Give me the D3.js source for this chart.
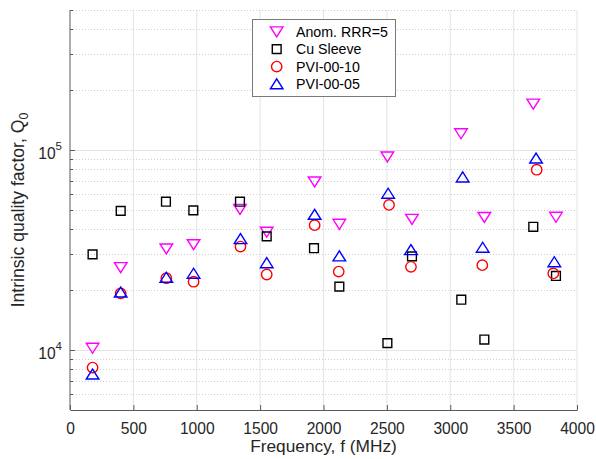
<!DOCTYPE html>
<html>
<head>
<meta charset="utf-8">
<script src="https://cdn.jsdelivr.net/npm/d3@7"></script>
<style>
  html, body { margin: 0; padding: 0; background: #fff; }
  svg { display: block; font-family: "Liberation Sans", Arial, Helvetica, sans-serif; }
</style>
</head>
<body>
<svg id="chart" width="596" height="459"></svg>
<script>
// Measured intrinsic quality factor Q0 vs. cavity frequency (MHz)
const anomFreq = [178, 400, 760, 975, 1341, 1552, 1930, 2125, 2504, 2698, 3085, 3269, 3655, 3834];
const anomQ    = [10200, 25800, 32000, 33600, 50500, 38800, 69200, 42500, 92300, 45000, 120500, 46000, 169500, 46100];

const cuFreq = [178, 400, 757, 973, 1341, 1552, 1925, 2125, 2504, 2698, 3087, 3269, 3655, 3834];
const cuQ    = [30000, 49500, 55000, 49800, 55000, 36900, 32200, 20700, 10800, 29300, 17800, 11250, 41200, 23400];

const pvi10Freq = [178, 400, 760, 975, 1345, 1552, 1930, 2120, 2517, 2690, 3253, 3682, 3813];
const pvi10Q    = [8150, 19150, 22800, 21900, 32800, 23800, 42000, 24600, 53000, 26000, 26500, 79500, 24100];

const pvi05Freq = [178, 400, 760, 975, 1345, 1552, 1930, 2125, 2510, 2690, 3098, 3256, 3677, 3821];
const pvi05Q    = [7550, 19400, 23000, 24100, 35900, 27200, 47500, 29400, 60500, 31600, 73000, 32500, 90700, 27500];

const seriesNames  = ["Anom. RRR=5", "Cu Sleeve", "PVI-00-10", "PVI-00-05"];
const xTickValues  = [0, 500, 1000, 1500, 2000, 2500, 3000, 3500, 4000];
const yMajorTicks  = [1e4, 1e5];
const yMinorTicks  = [6e3, 7e3, 8e3, 9e3, 2e4, 3e4, 4e4, 5e4, 6e4, 7e4, 8e4, 9e4, 2e5, 3e5, 4e5, 5e5];

const series = [
  { name: seriesNames[0], freq: anomFreq,  q: anomQ,  shape: "tdown",  color: "#ff00ff" },
  { name: seriesNames[1], freq: cuFreq,    q: cuQ,    shape: "square", color: "#000000" },
  { name: seriesNames[2], freq: pvi10Freq, q: pvi10Q, shape: "circle", color: "#ff0000" },
  { name: seriesNames[3], freq: pvi05Freq, q: pvi05Q, shape: "tup",    color: "#0000ff" }
];

const svg = d3.select("#chart");
const L = 70, R = 577, T = 10, B = 410;

const x = d3.scaleLinear().domain([0, 4000]).range([L, R]);
const y = d3.scaleLog().domain([5000, 500000]).range([B, T]);

const axisColor = "#5a5a5a";
const textColor = "#262626";

// grid: vertical major lines
const grid = svg.append("g");
grid.selectAll("line.vx").data(xTickValues.filter(d => d > 0)).join("line")
  .attr("x1", d => x(d)).attr("x2", d => x(d)).attr("y1", T).attr("y2", B)
  .attr("stroke", "#e3e3e3").attr("stroke-width", 1);
// horizontal minor lines (dotted)
grid.selectAll("line.hm").data(yMinorTicks).join("line")
  .attr("x1", L).attr("x2", R).attr("y1", d => Math.round(y(d)) + 0.5).attr("y2", d => Math.round(y(d)) + 0.5)
  .attr("stroke", "#cfcfcf").attr("stroke-width", 1).attr("stroke-dasharray", "1,2");
// horizontal major lines
grid.selectAll("line.hM").data(yMajorTicks).join("line")
  .attr("x1", L).attr("x2", R).attr("y1", d => Math.round(y(d)) + 0.5).attr("y2", d => Math.round(y(d)) + 0.5)
  .attr("stroke", "#e3e3e3").attr("stroke-width", 1);

// x axis (ticks point inward)
const xAxis = d3.axisBottom(x).tickValues(xTickValues).tickSizeInner(-5).tickSizeOuter(0).tickPadding(13)
  .tickFormat(d3.format("d"));
const gx = svg.append("g").attr("transform", `translate(0,${B})`).call(xAxis);
gx.select(".domain").attr("stroke", axisColor);
gx.selectAll(".tick line").attr("stroke", axisColor);
gx.selectAll(".tick text").attr("fill", textColor).attr("font-size", 15.6).attr("font-family", "Liberation Sans, Arial, sans-serif");

// y axis (log) with major and minor ticks
const gy = svg.append("g").attr("transform", `translate(${L},0)`);
gy.append("line").attr("x1", 0).attr("x2", 0).attr("y1", T).attr("y2", B).attr("stroke", axisColor);
gy.selectAll("line.mj").data(yMajorTicks).join("line")
  .attr("x1", 0).attr("x2", 5).attr("y1", d => Math.round(y(d)) + 0.5).attr("y2", d => Math.round(y(d)) + 0.5)
  .attr("stroke", axisColor);
gy.selectAll("line.mn").data(yMinorTicks).join("line")
  .attr("x1", 0).attr("x2", 3).attr("y1", d => Math.round(y(d)) + 0.5).attr("y2", d => Math.round(y(d)) + 0.5)
  .attr("stroke", axisColor);
const yl = gy.selectAll("text.yt").data(yMajorTicks).join("text")
  .attr("x", -8).attr("y", d => y(d) + 9).attr("text-anchor", "end").attr("fill", textColor)
  .attr("font-size", 15.6);
yl.append("tspan").text("10");
yl.append("tspan").attr("dy", -9).attr("font-size", 11.5).text(d => Math.round(Math.log10(d)));

// axis labels
svg.append("text").attr("x", (L + R) / 2).attr("y", 451.5).attr("text-anchor", "middle")
  .attr("fill", textColor).attr("font-size", 17.3).text("Frequency, f (MHz)");
const ylab = svg.append("text").attr("transform", `translate(24,${(T + B) / 2}) rotate(-90)`)
  .attr("text-anchor", "middle").attr("fill", textColor).attr("font-size", 17.6);
ylab.append("tspan").text("Intrinsic quality factor, Q");
ylab.append("tspan").attr("dy", 4).attr("font-size", 12.5).text("0");

// marker shapes
function markerPath(shape) {
  switch (shape) {
    case "tdown": return "M-6.3,-4.8L6.3,-4.8L0,5.2Z";
    case "tup":   return "M-6.3,4.8L6.3,4.8L0,-5.2Z";
    case "square":return "M-4.4,-4.4H4.4V4.4H-4.4Z";
    case "circle":return d3.arc()({ innerRadius: 0, outerRadius: 5.2, startAngle: 0, endAngle: 2 * Math.PI });
  }
}

const marks = svg.append("g");
series.forEach(s => {
  marks.append("g").selectAll("path").data(s.freq.map((f, i) => [f, s.q[i]])).join("path")
    .attr("transform", d => `translate(${x(d[0])},${y(d[1])})`)
    .attr("d", markerPath(s.shape))
    .attr("fill", "none").attr("stroke", s.color).attr("stroke-width", 1.4);
});

// legend
const lg = svg.append("g");
lg.append("rect").attr("x", 252.5).attr("y", 19.5).attr("width", 143).attr("height", 77)
  .attr("fill", "#fff").attr("stroke", "#7a7a7a").attr("stroke-width", 1);
const rowY = d3.scaleLinear().domain([0, 3]).range([31.7, 84]);
series.forEach((s, i) => {
  lg.append("path").attr("transform", `translate(276.7,${rowY(i)})`).attr("d", markerPath(s.shape))
    .attr("fill", "none").attr("stroke", s.color).attr("stroke-width", 1.4);
  lg.append("text").attr("x", 296).attr("y", rowY(i) + 5).attr("fill", "#000")
    .attr("font-size", 14.2).text(s.name);
});
</script>
</body>
</html>
